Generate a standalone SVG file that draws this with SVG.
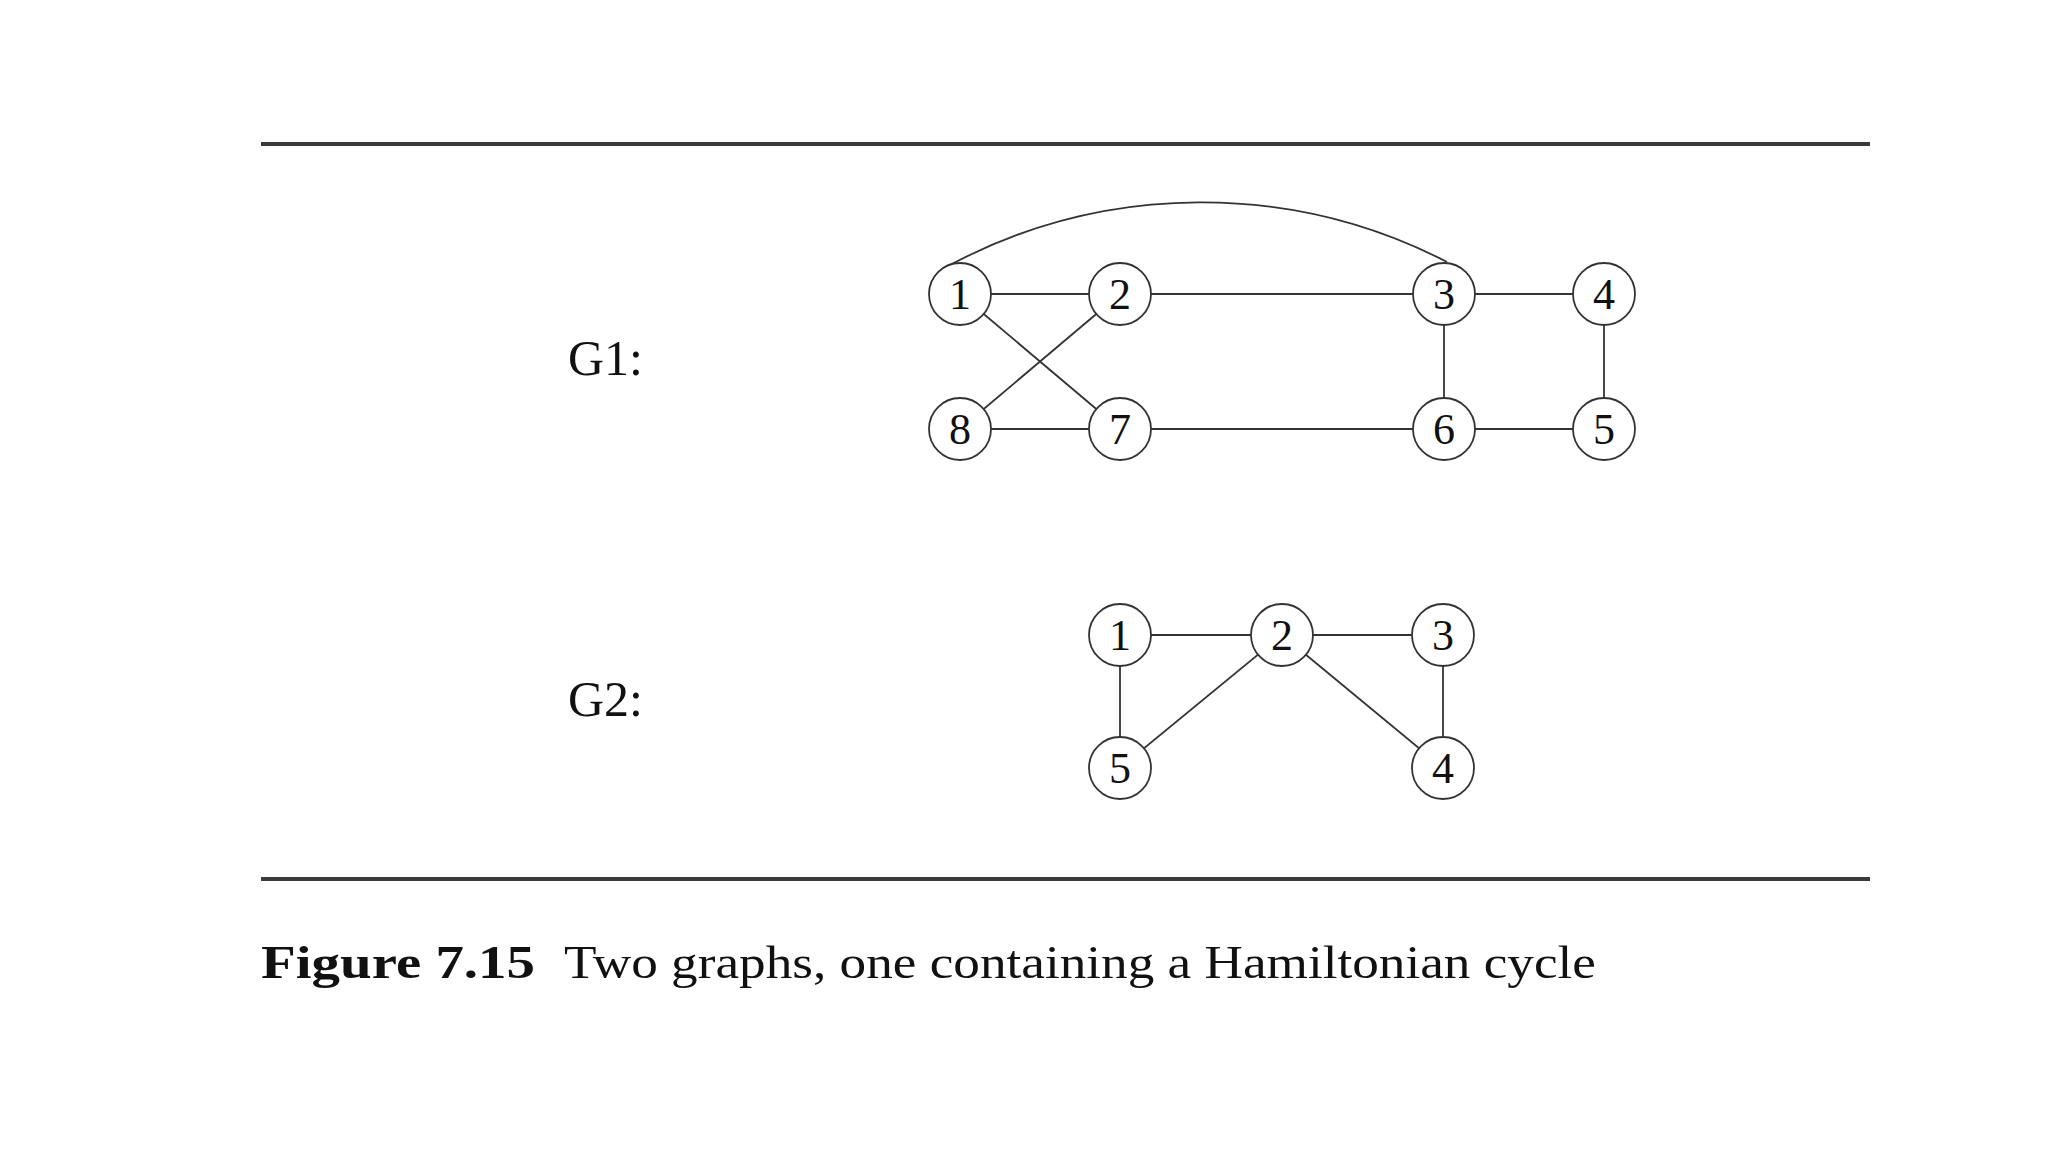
<svg xmlns="http://www.w3.org/2000/svg" width="2048" height="1152" viewBox="0 0 2048 1152">
<style>
.rule{stroke:#3a3a3a;stroke-width:4;}
.edge{stroke:#333;stroke-width:1.8;fill:none;}
.node circle{fill:#fff;stroke:#333;stroke-width:1.8;}
.node text{font-family:"Liberation Serif","DejaVu Serif",serif;font-size:44px;text-anchor:middle;fill:#111;}
.lbl{font-family:"Liberation Serif","DejaVu Serif",serif;font-size:50px;fill:#111;}
.cap{font-family:"Liberation Serif","DejaVu Serif",serif;font-size:46px;fill:#111;}
</style>
<rect width="2048" height="1152" fill="#fff"/>
<line class="rule" x1="261" y1="144" x2="1870" y2="144"/>
<line class="rule" x1="261" y1="879" x2="1870" y2="879"/>
<text class="lbl" x="568" y="375">G1:</text>
<text class="lbl" x="568" y="716">G2:</text>
<g id="connectors">
<path class="edge" d="M950 265 A 536 536 0 0 1 1447 262"/>
<line class="edge" x1="960" y1="294" x2="1120" y2="294"/>
<line class="edge" x1="1120" y1="294" x2="1444" y2="294"/>
<line class="edge" x1="1444" y1="294" x2="1604" y2="294"/>
<line class="edge" x1="960" y1="294" x2="1120" y2="429"/>
<line class="edge" x1="1120" y1="294" x2="960" y2="429"/>
<line class="edge" x1="960" y1="429" x2="1120" y2="429"/>
<line class="edge" x1="1120" y1="429" x2="1444" y2="429"/>
<line class="edge" x1="1444" y1="429" x2="1604" y2="429"/>
<line class="edge" x1="1444" y1="294" x2="1444" y2="429"/>
<line class="edge" x1="1604" y1="294" x2="1604" y2="429"/>
<line class="edge" x1="1120" y1="635" x2="1282" y2="635"/>
<line class="edge" x1="1282" y1="635" x2="1443" y2="635"/>
<line class="edge" x1="1120" y1="635" x2="1120" y2="768"/>
<line class="edge" x1="1282" y1="635" x2="1120" y2="768"/>
<line class="edge" x1="1282" y1="635" x2="1443" y2="768"/>
<line class="edge" x1="1443" y1="635" x2="1443" y2="768"/>
</g>
<g id="g1-n1" class="node"><circle cx="960" cy="294" r="31"/><text x="960" y="309">1</text></g>
<g id="g1-n2" class="node"><circle cx="1120" cy="294" r="31"/><text x="1120" y="309">2</text></g>
<g id="g1-n3" class="node"><circle cx="1444" cy="294" r="31"/><text x="1444" y="309">3</text></g>
<g id="g1-n4" class="node"><circle cx="1604" cy="294" r="31"/><text x="1604" y="309">4</text></g>
<g id="g1-n8" class="node"><circle cx="960" cy="429" r="31"/><text x="960" y="444">8</text></g>
<g id="g1-n7" class="node"><circle cx="1120" cy="429" r="31"/><text x="1120" y="444">7</text></g>
<g id="g1-n6" class="node"><circle cx="1444" cy="429" r="31"/><text x="1444" y="444">6</text></g>
<g id="g1-n5" class="node"><circle cx="1604" cy="429" r="31"/><text x="1604" y="444">5</text></g>
<g id="g2-n1" class="node"><circle cx="1120" cy="635" r="31"/><text x="1120" y="650">1</text></g>
<g id="g2-n2" class="node"><circle cx="1282" cy="635" r="31"/><text x="1282" y="650">2</text></g>
<g id="g2-n3" class="node"><circle cx="1443" cy="635" r="31"/><text x="1443" y="650">3</text></g>
<g id="g2-n5" class="node"><circle cx="1120" cy="768" r="31"/><text x="1120" y="783">5</text></g>
<g id="g2-n4" class="node"><circle cx="1443" cy="768" r="31"/><text x="1443" y="783">4</text></g>
<text class="cap" x="261" y="978" font-weight="bold" textLength="274" lengthAdjust="spacingAndGlyphs">Figure 7.15</text>
<text class="cap" x="564" y="978" textLength="1032" lengthAdjust="spacingAndGlyphs">Two graphs, one containing a Hamiltonian cycle</text>
</svg>
